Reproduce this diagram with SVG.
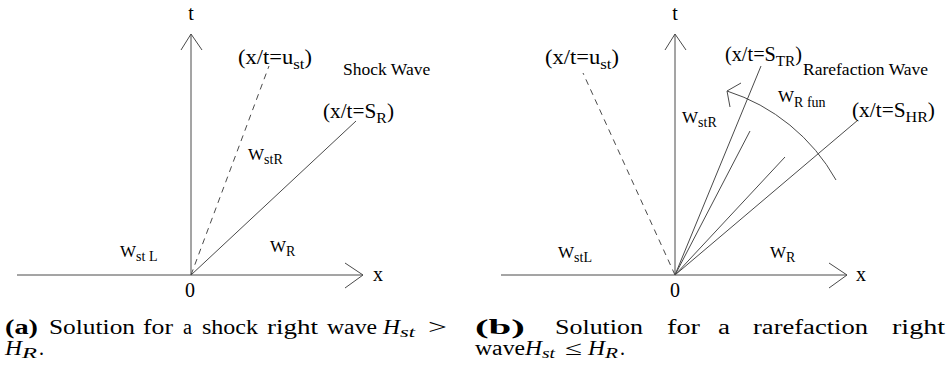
<svg xmlns="http://www.w3.org/2000/svg" width="947" height="371" viewBox="0 0 947 371" font-family="Liberation Serif, Times New Roman, Times, serif">
<style>
.ln{stroke:#4a4a4a;stroke-width:1;fill:none}
.dash{stroke-dasharray:6 5}
.lbl{font-size:20px}
.sub{font-size:15px}
.w{font-size:17px}
.ws{font-size:14px}
.wave{font-size:17.5px}
.cap{font-size:20px}
.b{font-weight:bold}
.i{font-style:italic}
.cs{font-size:14px;font-style:italic}
</style>
<rect width="947" height="371" fill="#fff"/>

<g id="panel-a">
  <g id="a-connectors">
    <line class="ln" x1="17" y1="275" x2="363" y2="275"/>
    <polyline class="ln" points="345,263 363,275 345,288"/>
    <line class="ln" x1="191" y1="275" x2="191" y2="34"/>
    <polyline class="ln" points="181,50 191,34 202,50"/>
    <line class="ln dash" x1="191" y1="275" x2="269" y2="66"/>
    <line class="ln" x1="191" y1="275" x2="356" y2="121"/>
  </g>
  <g id="a-labels">
    <text class="lbl" x="191" y="20" text-anchor="middle" font-size="18">t</text>
    <text class="lbl" x="373" y="281">x</text>
    <text class="lbl" x="190" y="297" text-anchor="middle" font-size="18">0</text>
    <text class="lbl" x="238" y="64" textLength="74" lengthAdjust="spacingAndGlyphs">(x/t=u<tspan class="sub" dy="5">st</tspan><tspan dy="-5">)</tspan></text>
    <text class="wave" x="343" y="75">Shock Wave</text>
    <text class="lbl" x="323" y="118" textLength="71" lengthAdjust="spacingAndGlyphs">(x/t=S<tspan class="sub" dy="5">R</tspan><tspan dy="-5">)</tspan></text>
    <text class="w" x="248" y="160">W<tspan class="ws" dy="4">stR</tspan></text>
    <text class="w" x="120" y="257">W<tspan class="ws" dy="4">st L</tspan></text>
    <text class="w" x="270" y="252">W<tspan class="ws" dy="4">R</tspan></text>
  </g>
</g>

<g id="panel-b">
  <g id="b-connectors">
    <line class="ln" x1="501" y1="275" x2="847" y2="275"/>
    <polyline class="ln" points="829,263 847,275 829,288"/>
    <line class="ln" x1="675" y1="275" x2="675" y2="34"/>
    <polyline class="ln" points="665,50 675,34 686,50"/>
    <line class="ln dash" x1="675" y1="275" x2="583" y2="73"/>
    <line class="ln" x1="675" y1="275" x2="761" y2="66"/>
    <line class="ln" x1="675" y1="275" x2="750" y2="131"/>
    <line class="ln" x1="675" y1="275" x2="785" y2="157"/>
    <line class="ln" x1="675" y1="275" x2="858" y2="120"/>
    <path class="ln" d="M727,91 A192,192 0 0 1 836,180"/>
    <polyline class="ln" points="741,83 727,91 730,107"/>
  </g>
  <g id="b-labels">
    <text class="lbl" x="675" y="20" text-anchor="middle" font-size="18">t</text>
    <text class="lbl" x="856" y="281">x</text>
    <text class="lbl" x="675" y="297" text-anchor="middle" font-size="18">0</text>
    <text class="lbl" x="545" y="64" textLength="74" lengthAdjust="spacingAndGlyphs">(x/t=u<tspan class="sub" dy="5">st</tspan><tspan dy="-5">)</tspan></text>
    <text class="lbl" x="725" y="61" textLength="77" lengthAdjust="spacingAndGlyphs">(x/t=S<tspan class="sub" dy="5">TR</tspan><tspan dy="-5">)</tspan></text>
    <text class="wave" x="803" y="75">Rarefaction Wave</text>
    <text class="w" x="778" y="102">W<tspan class="ws" dy="5">R fun</tspan></text>
    <text class="lbl" x="852" y="117" textLength="83" lengthAdjust="spacingAndGlyphs">(x/t=S<tspan class="sub" dy="5">HR</tspan><tspan dy="-5">)</tspan></text>
    <text class="w" x="682" y="123">W<tspan class="ws" dy="4">stR</tspan></text>
    <text class="w" x="558" y="258">W<tspan class="ws" dy="4">stL</tspan></text>
    <text class="w" x="770" y="258">W<tspan class="ws" dy="4">R</tspan></text>
  </g>
</g>

<g id="caption-a">
  <text class="cap b" x="5" y="334" textLength="33" lengthAdjust="spacingAndGlyphs">(a)</text>
  <text class="cap" x="49" y="334" textLength="86" lengthAdjust="spacingAndGlyphs">Solution</text>
  <text class="cap" x="143" y="334" textLength="30" lengthAdjust="spacingAndGlyphs">for</text>
  <text class="cap" x="183" y="334" textLength="9" lengthAdjust="spacingAndGlyphs">a</text>
  <text class="cap" x="202" y="334" textLength="56" lengthAdjust="spacingAndGlyphs">shock</text>
  <text class="cap" x="267" y="334" textLength="51" lengthAdjust="spacingAndGlyphs">right</text>
  <text class="cap" x="327" y="334" textLength="50" lengthAdjust="spacingAndGlyphs">wave</text>
  <text class="cap i" x="383" y="334" textLength="17" lengthAdjust="spacingAndGlyphs">H</text>
  <text class="cs" x="400" y="337" textLength="15" lengthAdjust="spacingAndGlyphs">st</text>
  <text class="cap" x="428" y="334" textLength="19" lengthAdjust="spacingAndGlyphs">&gt;</text>
  <text class="cap i" x="5" y="355" textLength="17" lengthAdjust="spacingAndGlyphs">H</text>
  <text class="cs" x="22" y="358" textLength="15" lengthAdjust="spacingAndGlyphs">R</text>
  <text class="cap" x="39" y="355">.</text>
</g>

<g id="caption-b">
  <text class="cap b" x="475" y="334" textLength="50" lengthAdjust="spacingAndGlyphs">(b)</text>
  <text class="cap" x="555" y="334" textLength="88" lengthAdjust="spacingAndGlyphs">Solution</text>
  <text class="cap" x="667" y="334" textLength="33" lengthAdjust="spacingAndGlyphs">for</text>
  <text class="cap" x="718" y="334" textLength="12" lengthAdjust="spacingAndGlyphs">a</text>
  <text class="cap" x="753" y="334" textLength="115" lengthAdjust="spacingAndGlyphs">rarefaction</text>
  <text class="cap" x="892" y="334" textLength="53" lengthAdjust="spacingAndGlyphs">right</text>
  <text class="cap" x="475" y="355" textLength="50" lengthAdjust="spacingAndGlyphs">wave</text>
  <text class="cap i" x="525" y="355" textLength="17" lengthAdjust="spacingAndGlyphs">H</text>
  <text class="cs" x="542" y="358" textLength="13" lengthAdjust="spacingAndGlyphs">st</text>
  <text class="cap" x="565" y="355" textLength="17" lengthAdjust="spacingAndGlyphs">≤</text>
  <text class="cap i" x="588" y="355" textLength="17" lengthAdjust="spacingAndGlyphs">H</text>
  <text class="cs" x="605" y="358" textLength="13" lengthAdjust="spacingAndGlyphs">R</text>
  <text class="cap" x="620" y="355">.</text>
</g>
</svg>
